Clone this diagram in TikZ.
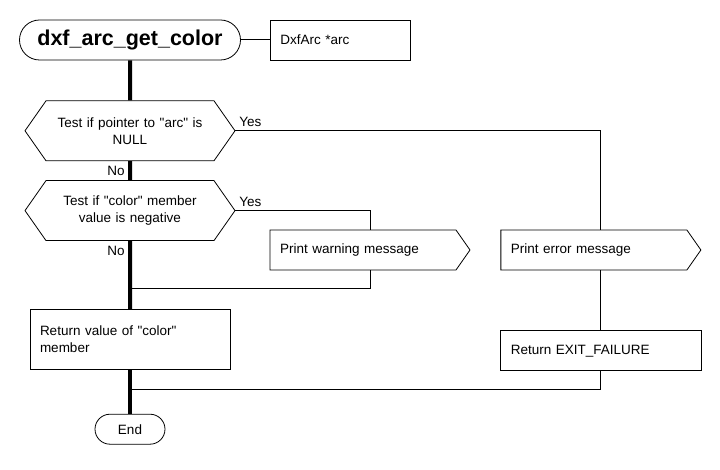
\documentclass[tikz,border=0pt]{standalone}
\usepackage{fontspec}
\setmainfont{Liberation Sans}[Ligatures=TeXOff]
\usetikzlibrary{positioning, shapes.symbols, shapes.misc}
\tikzstyle{every node}=[font=\fontsize{13.5}{17}\selectfont]
\tikzstyle{Terminal}=[draw, line width=0.8pt, rounded corners=20pt,
minimum width=221pt, minimum height=40pt,
font=\fontsize{21.5}{24}\selectfont\bfseries]
\tikzstyle{Stop}=[draw, line width=0.8pt, rounded corners=15pt,
minimum width=70pt, minimum height=30pt]
\tikzstyle{Param}=[draw, line width=0.8pt, minimum width=140pt,
minimum height=40pt, text width=120pt, inner xsep=10pt, align=left]
\tikzstyle{Decision}=[draw, line width=0.8pt, signal, signal to=west and east,
signal pointer angle=110, minimum width=210pt, minimum height=60pt,
text width=160pt, align=center]
\tikzstyle{Output}=[draw, line width=0.8pt, signal, signal to=east,
signal pointer angle=110, minimum height=40pt, text width=166pt,
inner xsep=10pt, align=left]
\tikzstyle{Process}=[draw, line width=0.8pt, minimum width=200pt,
text width=180pt, inner xsep=10pt, align=left]
\tikzstyle{Spine}=[line width=4pt]
\tikzstyle{Flow}=[line width=1pt]

\begin{document}
\begin{tikzpicture}
    \useasboundingbox (0,0) rectangle (720pt,-470pt);
    \node [Terminal] (1) at (130pt,-40pt) {dxf\_arc\_get\_color};
    \node [Param, right =29pt of 1] (2) {DxfArc *arc};
    \node [Decision, below =40pt of 1] (3) {Test if pointer to "arc" is\\NULL};
    \node [Decision, below =19pt of 3] (4) {Test if "color" member\\value is negative};
    \node [Process, minimum height=60pt, below =68pt of 4] (5) {Return value of "color"\\member};
    \node [Stop, below =44pt of 5] (6) {End};
    \node [Output] (7) at (363pt,-250pt) {Print warning message};
    \node [Output, right =30pt of 7] (8) {Print error message};
    \node [Process, minimum height=40pt, below =60pt of 8.south, xshift=7pt] (9) {Return EXIT\_FAILURE};
    \coordinate [below =48pt of 4.south] (10);
    \coordinate [below =20pt of 5.south] (11);
    \draw[Flow] (1) -- (2);
    \draw[Spine] (1) -- (3);
    \draw[Spine] (3) -- node[left] {No} (4);
    \draw[Spine] (4) -- node[pos=0, below left] {No} (5);
    \draw[Spine] (5) -- (6);
    \draw[Flow] (3.east) -| ([xshift=7pt]8.north) node[pos=0, above right] {Yes};
    \draw[Flow] (4.east) -| ([xshift=7pt]7.north) node[pos=0, above right] {Yes};
    \draw[Flow] ([xshift=7pt]7.south) |- (10);
    \draw[Flow] ([xshift=7pt]8.south) -- (9.north);
    \draw[Flow] (9.south) |- (11);
\end{tikzpicture}
\end{document}
